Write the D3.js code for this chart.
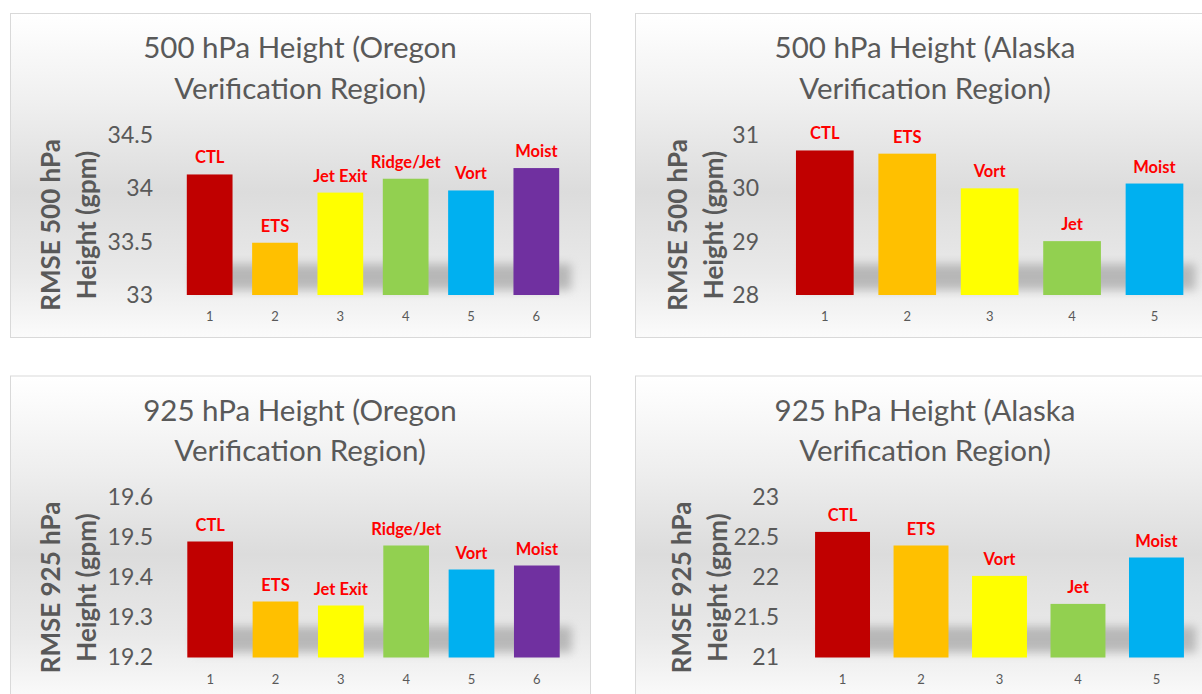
<!DOCTYPE html>
<html>
<head>
<meta charset="utf-8">
<script src="https://cdn.jsdelivr.net/npm/d3@7"></script>
<style>
  html, body { margin: 0; padding: 0; background: #ffffff; }
  svg { display: block; }
  text { font-family: Lato, "Open Sans", sans-serif; }
</style>
</head>
<body>
<svg id="chart" width="1202" height="694"></svg>
<script>
// ---------- DATA ----------
const oregonCategories = ["1", "2", "3", "4", "5", "6"];
const oregonLabels = ["CTL", "ETS", "Jet Exit", "Ridge/Jet", "Vort", "Moist"];
const alaskaCategories = ["1", "2", "3", "4", "5"];
const alaskaLabels = ["CTL", "ETS", "Vort", "Jet", "Moist"];

const oregon500Values = [34.13, 33.49, 33.96, 34.09, 33.98, 34.19];
const alaska500Values = [30.71, 30.65, 30.00, 29.01, 30.09];
const oregon925Values = [19.49, 19.34, 19.33, 19.48, 19.42, 19.43];
const alaska925Values = [22.57, 22.40, 22.02, 21.67, 22.25];

const oregon500Ticks = [33, 33.5, 34, 34.5];
const alaska500Ticks = [28, 29, 30, 31];
const oregon925Ticks = [19.2, 19.3, 19.4, 19.5, 19.6];
const alaska925Ticks = [21, 21.5, 22, 22.5, 23];

const oregon500Title = ["500 hPa Height (Oregon", "Verification Region)"];
const alaska500Title = ["500 hPa Height (Alaska", "Verification Region)"];
const oregon925Title = ["925 hPa Height (Oregon", "Verification Region)"];
const alaska925Title = ["925 hPa Height (Alaska", "Verification Region)"];

const yTitle500 = ["RMSE 500 hPa", "Height (gpm)"];
const yTitle925 = ["RMSE 925 hPa", "Height (gpm)"];

// ---------- STYLE ----------
const barColors = ["#C00000", "#FFC000", "#FFFF00", "#92D050", "#00B0F0", "#7030A0"];
const textGray = "#595959";
const labelRed = "#FF0000";

const svg = d3.select("#chart");
const defs = svg.append("defs");

defs.append("filter").attr("id", "shadowBlur")
  .attr("x", "-20%").attr("y", "-100%").attr("width", "140%").attr("height", "300%")
  .append("feGaussianBlur").attr("stdDeviation", 5);

function makeGradient(id) {
  const g = defs.append("linearGradient").attr("id", id)
    .attr("x1", 0).attr("y1", 0).attr("x2", 0).attr("y2", 1);
  [[0, "#ffffff"], [0.06, "#fcfcfc"], [0.28, "#efefef"], [0.55, "#dcdcdc"],
   [0.8, "#e9e9e9"], [1, "#fbfbfb"]].forEach(([o, c]) =>
    g.append("stop").attr("offset", o).attr("stop-color", c));
}

const panels = [
  { id: "p1", title: oregon500Title, yTitle: yTitle500, cats: oregonCategories, labels: oregonLabels,
    values: oregon500Values, ticks: oregon500Ticks,
    frameX: 10, frameW: 580, dy: 0, xRange: [177, 569], tickRight: 153, yTitleX: [50, 86] },
  { id: "p2", title: alaska500Title, yTitle: yTitle500, cats: alaskaCategories, labels: alaskaLabels,
    values: alaska500Values, ticks: alaska500Ticks,
    frameX: 635, frameW: 580, dy: 0, xRange: [783.6, 1195.7], tickRight: 759, yTitleX: [677, 713] },
  { id: "p3", title: oregon925Title, yTitle: yTitle925, cats: oregonCategories, labels: oregonLabels,
    values: oregon925Values, ticks: oregon925Ticks,
    frameX: 10, frameW: 580, dy: 362.5, xRange: [177.5, 569.5], tickRight: 153, yTitleX: [50, 86] },
  { id: "p4", title: alaska925Title, yTitle: yTitle925, cats: alaskaCategories, labels: alaskaLabels,
    values: alaska925Values, ticks: alaska925Ticks,
    frameX: 635, frameW: 580, dy: 362.5, xRange: [803.3, 1195.7], tickRight: 779, yTitleX: [681, 717] }
];

panels.forEach(p => {
  makeGradient("bg-" + p.id);
  const g = svg.append("g").attr("transform", `translate(0,${p.dy})`);

  // frame
  g.append("rect")
    .attr("x", p.frameX + 0.5).attr("y", 13.5)
    .attr("width", p.frameW).attr("height", 324)
    .attr("fill", `url(#bg-${p.id})`)
    .attr("stroke", "#d9d9d9").attr("stroke-width", 1);

  // title
  const cx = p.frameX + p.frameW / 2;
  g.append("text").attr("x", cx).attr("y", 58).attr("text-anchor", "middle")
    .attr("fill", textGray).attr("font-size", 29.5).text(p.title[0]);
  g.append("text").attr("x", cx).attr("y", 98.5).attr("text-anchor", "middle")
    .attr("fill", textGray).attr("font-size", 29.5).text(p.title[1]);

  // scales
  const y = d3.scaleLinear()
    .domain([p.ticks[0], p.ticks[p.ticks.length - 1]])
    .range([295, 135]);
  const x = d3.scaleBand().domain(p.cats).range(p.xRange)
    .paddingInner(0.3).paddingOuter(0.15);

  // y-axis title
  p.yTitle.forEach((t, i) => {
    g.append("text")
      .attr("transform", `translate(${p.yTitleX[i]},225) rotate(-90)`)
      .attr("text-anchor", "middle").attr("dominant-baseline", "central")
      .attr("fill", textGray).attr("font-size", 26).attr("font-weight", "bold")
      .text(t);
  });

  // y axis
  const yAxis = g.append("g").attr("transform", `translate(${p.tickRight},0)`)
    .call(d3.axisLeft(y).tickValues(p.ticks).tickSize(0).tickPadding(0)
      .tickFormat(d => String(+d.toFixed(2))));
  yAxis.select(".domain").remove();
  yAxis.selectAll("text").attr("fill", textGray).attr("font-size", 23)
    .attr("font-family", "Lato, sans-serif");

  // shadow band behind bars
  const first = x(p.cats[0]);
  const last = x(p.cats[p.cats.length - 1]) + x.bandwidth();
  g.append("rect")
    .attr("x", first + 6).attr("y", 264)
    .attr("width", last - first + 6).attr("height", 26)
    .attr("fill", "#8f8f8f").attr("opacity", 0.55)
    .attr("filter", "url(#shadowBlur)");

  // bars
  g.selectAll("rect.bar").data(p.values).join("rect").attr("class", "bar")
    .attr("x", (d, i) => x(p.cats[i]))
    .attr("y", d => y(d))
    .attr("width", x.bandwidth())
    .attr("height", d => y(p.ticks[0]) - y(d))
    .attr("fill", (d, i) => barColors[i]);

  // bar labels
  g.selectAll("text.blabel").data(p.values).join("text").attr("class", "blabel")
    .attr("x", (d, i) => x(p.cats[i]) + x.bandwidth() / 2)
    .attr("y", d => y(d) - 11)
    .attr("text-anchor", "middle")
    .attr("fill", labelRed).attr("font-size", 16.5).attr("font-weight", "bold")
    .text((d, i) => p.labels[i]);

  // x axis
  const xAxis = g.append("g").attr("transform", `translate(0,295)`)
    .call(d3.axisBottom(x).tickSize(0).tickPadding(17));
  xAxis.select(".domain").remove();
  xAxis.selectAll("text").attr("fill", textGray).attr("font-size", 13)
    .attr("font-family", "Lato, sans-serif");
});
</script>
</body>
</html>
